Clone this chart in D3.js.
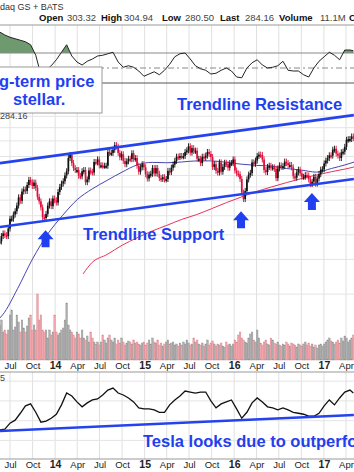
<!DOCTYPE html>
<html>
<head>
<meta charset="utf-8">
<script src="https://cdn.jsdelivr.net/npm/d3@7/dist/d3.min.js"></script>
<style>
  body { margin: 0; background: #fff; }
  svg { display: block; font-family: "Liberation Sans", Arial, sans-serif; }
  .note { fill: #1f3ff0; font-weight: bold; font-size: 16.5px; }
</style>
</head>
<body>
<svg id="chart"></svg>
<script>
// weekly data, first bar = week of 2013-05-20
const firstWeek = "2013-05-20";
const weeklyClose = [
  92, 98, 101, 99, 98, 107, 120, 120, 126, 131, 140, 154, 148, 165, 169, 166, 178, 189, 184, 176, 183, 172, 155, 147, 137, 122, 121, 127, 140, 147, 139, 152,
  149, 145, 164, 174, 181, 186, 199, 209, 244, 253, 230, 217, 212, 212, 198, 197, 209, 212, 184, 190, 211, 208, 206, 233, 232, 240, 224, 224, 223, 223,
  223, 262, 259, 259, 269, 284, 279, 259, 246, 255, 236, 227, 235, 242, 241, 258, 242, 244, 223, 208, 219, 227,
  219, 202, 192, 201, 203, 217, 204, 217, 203, 193, 191, 195, 190, 191, 210, 207, 218, 226, 236, 248, 247, 250, 249, 250, 262, 267,
  280, 260, 274, 265, 266, 242, 242, 230, 248, 245, 251, 262, 256, 247, 220, 227, 210, 206, 232, 208, 220, 231, 227, 218, 230, 230,
  240, 211, 204, 202, 191, 163, 151, 166, 190, 201, 205, 232, 228, 237, 250, 254, 253, 240, 212, 207, 220, 223, 218, 219, 215, 193,
  216, 224, 220, 222, 234, 230, 225, 225, 219, 197, 194, 206, 213, 204, 196, 196, 200, 199, 190, 180, 185, 196, 181, 192, 202, 213, 214,
  229, 237, 244, 252, 251, 269, 272, 257, 251, 244, 261, 263, 278, 302, 304, 305, 314, 308
];
// millions of shares
const weeklyVolume = [
  70, 80, 56, 60, 52, 60, 90, 100, 60, 66, 90, 76, 56, 80, 64, 56, 68, 84, 90, 60, 70, 60, 132, 80, 90, 60, 56, 60, 44, 60, 50, 56,
  90, 56, 50, 54, 60, 64, 80, 114, 70, 60, 56, 50, 44, 56, 52, 44, 60, 44, 40, 48, 36, 56, 44, 36, 32, 36, 30, 36, 50, 40,
  34, 44, 50, 40, 36, 44, 32, 40, 34, 44, 36, 30, 34, 38, 36, 32, 40, 34, 36, 32, 30, 34,
  36, 30, 34, 40, 32, 44, 36, 34, 40, 30, 34, 28, 32, 36, 40, 32, 34, 36, 30, 32, 28, 34, 30, 36, 32, 40,
  34, 30, 32, 44, 36, 40, 32, 30, 34, 28, 32, 40, 30, 34, 38, 32, 28, 32, 30, 34, 28, 26, 36, 30, 32, 28,
  32, 40, 36, 50, 56, 44, 40, 36, 34, 44, 52, 56, 40, 36, 60, 44, 34, 30, 36, 40, 32, 30, 44, 40, 34, 32,
  36, 30, 28, 32, 30, 36, 32, 28, 34, 32, 30, 26, 32, 30, 28, 32, 36, 30, 34, 28, 32, 26, 30, 24, 30, 32, 28,
  32, 36, 40, 44, 38, 36, 32, 36, 40, 34, 44, 38, 48, 44, 36, 40, 44, 50
];
// every third week (plus the last week)
const sampledRsi = [
  98, 94, 91, 89, 87, 85, 81, 67, 41, 47, 53, 61, 71, 81, 66, 58, 54, 59, 62, 66,
  67, 69, 71, 58, 51, 53, 51, 46, 39, 42, 45, 41, 47, 55, 65, 69, 70, 62, 53, 49,
  47, 42, 43, 47, 50, 46, 38, 37, 50, 57, 61, 54, 50, 51, 53, 59, 47, 46, 46, 41,
  38, 50, 59, 65, 71, 67, 61, 74, 74, 73
];
const sampledRatio = [
  0.060, 0.062, 0.074, 0.080, 0.094, 0.109, 0.113, 0.096, 0.076, 0.078,
  0.084, 0.092, 0.111, 0.135, 0.129, 0.117, 0.107, 0.115, 0.121, 0.123,
  0.131, 0.141, 0.145, 0.135, 0.131, 0.125, 0.117, 0.105, 0.103, 0.103,
  0.101, 0.096, 0.096, 0.111, 0.121, 0.129, 0.139, 0.137, 0.135, 0.137,
  0.137, 0.119, 0.105, 0.113, 0.117, 0.121, 0.103, 0.084, 0.096, 0.115,
  0.125, 0.117, 0.107, 0.105, 0.101, 0.105, 0.101, 0.096, 0.094, 0.092,
  0.088, 0.088, 0.094, 0.109, 0.121, 0.111, 0.125, 0.137, 0.141, 0.135
];

const ma50Dates = ["2013-05-20", "2013-06-01", "2013-08-01", "2013-10-01", "2013-12-01", "2014-02-01", "2014-04-01", "2014-06-01",
  "2014-08-01", "2014-10-01", "2014-12-01", "2015-02-01", "2015-04-01", "2015-06-01", "2015-08-01", "2015-10-01", "2015-12-01",
  "2016-02-01", "2016-04-01", "2016-06-01", "2016-08-01", "2016-10-01", "2016-12-01", "2017-02-01", "2017-04-01", "2017-05-05"];
const ma50Values = [37.5, 39, 53, 75, 100, 125, 150, 170, 188, 207, 225, 232, 231, 233, 236, 236, 232, 227, 224, 222, 216, 212, 207, 216, 226, 233];
const ma200Dates = ["2014-04-25", "2014-06-01", "2014-08-01", "2014-10-01", "2014-12-01", "2015-02-01", "2015-04-01", "2015-06-01",
  "2015-08-01", "2015-10-01", "2015-12-01", "2016-02-01", "2016-04-01", "2016-06-01", "2016-08-01", "2016-10-01", "2016-12-01",
  "2017-02-01", "2017-04-01", "2017-05-05"];
const ma200Values = [63, 72, 79, 88, 96, 104, 111, 119, 126, 135, 145, 155, 165, 174, 183, 192, 200, 208, 215, 220];

const trendDates = ["2013-05-21", "2017-05-03"];
const resistanceValues = [230, 403];
const supportValues = [109, 191];
const ratioTrendValues = [0.058, 0.0904];

const arrowDates = ["2013-11-23", "2016-01-29", "2016-11-13"];
const arrowTipPrices = [105, 131, 162];

const quarterTicks = ["2013-07-01", "2013-10-01", "2014-01-01", "2014-04-01", "2014-07-01", "2014-10-01", "2015-01-01", "2015-04-01",
  "2015-07-01", "2015-10-01", "2016-01-01", "2016-04-01", "2016-07-01", "2016-10-01", "2017-01-01", "2017-04-01"];
const priceGrid = [50, 75, 100, 125, 150, 175, 200, 250, 300, 350, 400];
const rsiLevels = [70, 50, 30];
const ratioGrid = [0.04, 0.08, 0.12, 0.16];

const quoteLabels = ["Open", "High", "Low", "Last", "Volume", "C"];
const quoteValues = ["303.32", "304.94", "280.50", "284.16", "11.1M", ""];

const parseDay = d3.timeParse("%Y-%m-%d");

class TeslaChart {
  constructor(_config) {
    this.config = {
      parentElement: _config.parentElement,
      containerWidth: _config.containerWidth || 354,
      containerHeight: _config.containerHeight || 472
    };
    this.initVis();
  }

  initVis() {
    let vis = this;
    const w = vis.config.containerWidth;

    vis.svg = d3.select(vis.config.parentElement)
      .attr("width", w)
      .attr("height", vis.config.containerHeight);

    vis.xScale = d3.scaleTime()
      .domain([parseDay("2013-07-01"), parseDay("2017-04-01")])
      .range([10, 346]);
    vis.yRsi = d3.scaleLinear().domain([30, 70]).range([83, 53]);
    vis.yPrice = d3.scaleLog().domain([23, 428]).range([360, 110]);
    vis.yVolume = d3.scaleLinear().domain([0, 140]).range([360, 290]);
    vis.yRatio = d3.scaleLinear().domain([0.02, 0.18]).range([449.8, 370.8]);

    vis.weekDate = i => d3.timeDay.offset(parseDay(firstWeek), 7 * i);
    vis.sampleWeeks = d3.range(0, weeklyClose.length - 1, 3).concat(weeklyClose.length - 1);

    vis.svg.append("defs").append("clipPath").attr("id", "above70")
      .append("rect").attr("x", 0).attr("y", 0).attr("width", w).attr("height", vis.yRsi(70));
  }

  renderVis() {
    let vis = this;
    const w = vis.config.containerWidth;
    const ticks = quarterTicks.map(parseDay);

    // vertical grid
    const grid = vis.svg.append("g").attr("class", "grid");
    grid.selectAll(".vgrid")
      .data(ticks)
      .join("line")
      .attr("x1", d => vis.xScale(d)).attr("x2", d => vis.xScale(d))
      .attr("y1", 25).attr("y2", 360)
      .attr("stroke", "#e0e0e0");
    grid.selectAll(".vgrid2")
      .data(ticks)
      .join("line")
      .attr("x1", d => vis.xScale(d)).attr("x2", d => vis.xScale(d))
      .attr("y1", 372).attr("y2", 459)
      .attr("stroke", "#e0e0e0");

    const priceGridG = vis.svg.append("g")
      .call(d3.axisRight(vis.yPrice).tickValues(priceGrid).tickSize(w).tickFormat(""))
      .call(g => g.select(".domain").remove());
    priceGridG.selectAll("line").attr("stroke", "#e4e4e4");

    const ratioGridG = vis.svg.append("g")
      .call(d3.axisRight(vis.yRatio).tickValues(ratioGrid).tickSize(w).tickFormat(""))
      .call(g => g.select(".domain").remove());
    ratioGridG.selectAll("line").attr("stroke", "#e4e4e4");

    // panel borders
    [25, 372, 459].forEach(y => {
      vis.svg.append("line").attr("x1", 0).attr("x2", w).attr("y1", y).attr("y2", y)
        .attr("stroke", "#999");
    });

    // RSI panel
    const rsiPts = vis.sampleWeeks.map((wk, k) => ({ date: vis.weekDate(wk), value: sampledRsi[k] }));
    vis.svg.append("path")
      .datum(rsiPts)
      .attr("clip-path", "url(#above70)")
      .attr("fill", "#6f9a6f")
      .attr("d", d3.area()
        .x(d => vis.xScale(d.date))
        .y0(vis.yRsi(70))
        .y1(d => vis.yRsi(d.value)));

    vis.svg.selectAll(".rsi-level")
      .data(rsiLevels)
      .join("line")
      .attr("x1", 0).attr("x2", w)
      .attr("y1", d => vis.yRsi(d)).attr("y2", d => vis.yRsi(d))
      .attr("stroke", d => d === 30 ? "#555" : "#888")
      .attr("stroke-dasharray", d => d === 50 ? "6,3,2,3" : null);

    vis.svg.append("path")
      .datum(rsiPts)
      .attr("fill", "none")
      .attr("stroke", "#222")
      .attr("stroke-width", 1)
      .attr("d", d3.line().x(d => vis.xScale(d.date)).y(d => vis.yRsi(d.value)));

    // volume
    vis.svg.selectAll(".vol")
      .data(weeklyVolume)
      .join("rect")
      .attr("class", "vol")
      .attr("x", (d, i) => vis.xScale(vis.weekDate(i)) - 0.8)
      .attr("width", 1.6)
      .attr("y", d => vis.yVolume(d))
      .attr("height", d => 360 - vis.yVolume(d))
      .attr("fill", (d, i) => i > 0 && weeklyClose[i] < weeklyClose[i - 1] ? "#f2a7ad" : "#b0b0b0")
      .attr("stroke", (d, i) => i > 0 && weeklyClose[i] < weeklyClose[i - 1] ? "#d9818a" : "#8c8c8c")
      .attr("stroke-width", 0.4);

    // moving averages
    const maLine = d3.line().curve(d3.curveMonotoneX)
      .x(d => vis.xScale(d.date)).y(d => vis.yPrice(d.value));
    vis.svg.append("path")
      .datum(ma50Dates.map((d, i) => ({ date: parseDay(d), value: ma50Values[i] })))
      .attr("fill", "none").attr("stroke", "#4646b4").attr("stroke-width", 1)
      .attr("d", maLine);
    vis.svg.append("path")
      .datum(ma200Dates.map((d, i) => ({ date: parseDay(d), value: ma200Values[i] })))
      .attr("fill", "none").attr("stroke", "#e8325a").attr("stroke-width", 1)
      .attr("d", maLine);

    // price bars
    const candles = weeklyClose.map((c, i) => ({
      date: vis.weekDate(i),
      open: i ? weeklyClose[i - 1] : c,
      close: c
    }));
    const barColor = d => d.close >= d.open ? "#111" : "#e0103c";
    vis.svg.selectAll(".wick")
      .data(candles)
      .join("line")
      .attr("x1", d => vis.xScale(d.date)).attr("x2", d => vis.xScale(d.date))
      .attr("y1", d => vis.yPrice(Math.max(d.open, d.close)) - 3)
      .attr("y2", d => vis.yPrice(Math.min(d.open, d.close)) + 3)
      .attr("stroke", barColor).attr("stroke-width", 0.9);
    vis.svg.selectAll(".body")
      .data(candles)
      .join("rect")
      .attr("x", d => vis.xScale(d.date) - 0.85)
      .attr("width", 1.7)
      .attr("y", d => vis.yPrice(Math.max(d.open, d.close)))
      .attr("height", d => Math.max(2, vis.yPrice(Math.min(d.open, d.close)) - vis.yPrice(Math.max(d.open, d.close))))
      .attr("fill", barColor);

    // trendlines
    const tDates = trendDates.map(parseDay);
    [resistanceValues, supportValues].forEach(vals => {
      vis.svg.append("line")
        .attr("x1", vis.xScale(tDates[0])).attr("y1", vis.yPrice(vals[0]))
        .attr("x2", vis.xScale(tDates[1])).attr("y2", vis.yPrice(vals[1]))
        .attr("stroke", "#2443ee").attr("stroke-width", 2.6);
    });

    // arrows
    const arrowPath = "M0,0 L8,9 L4,9 L4,17 L-4,17 L-4,9 L-8,9 Z";
    vis.svg.selectAll(".arrow")
      .data(arrowDates)
      .join("path")
      .attr("transform", (d, i) => `translate(${vis.xScale(parseDay(d))},${vis.yPrice(arrowTipPrices[i])})`)
      .attr("d", arrowPath)
      .attr("fill", "#1f3ff0");

    // ratio panel
    const ratioPts = vis.sampleWeeks.map((wk, k) => ({ date: vis.weekDate(wk), value: sampledRatio[k] }));
    vis.svg.append("path")
      .datum(ratioPts)
      .attr("fill", "none").attr("stroke", "#111").attr("stroke-width", 1.3)
      .attr("d", d3.line().x(d => vis.xScale(d.date)).y(d => vis.yRatio(d.value)));
    vis.svg.append("line")
      .attr("x1", vis.xScale(tDates[0])).attr("y1", vis.yRatio(ratioTrendValues[0]))
      .attr("x2", vis.xScale(tDates[1])).attr("y2", vis.yRatio(ratioTrendValues[1]))
      .attr("stroke", "#2443ee").attr("stroke-width", 2.4);

    // date axes
    const fmt = d => d.getMonth() === 0 ? d3.timeFormat("%y")(d) : d3.timeFormat("%b")(d);
    [360, 459].forEach(y => {
      vis.svg.append("g")
        .attr("transform", `translate(0,${y})`)
        .call(d3.axisBottom(vis.xScale).tickValues(ticks).tickSize(0).tickPadding(2).tickFormat(fmt))
        .call(g => g.select(".domain").remove())
        .call(g => g.selectAll("text")
          .attr("fill", "#222")
          .style("font-family", "Liberation Sans, Arial, sans-serif")
          .style("font-size", d => d.getMonth() === 0 ? "10.5px" : "9.5px")
          .style("font-weight", d => d.getMonth() === 0 ? "bold" : "normal"));
    });

    // header
    vis.svg.append("text").attr("x", 0).attr("y", 10)
      .attr("font-size", 9).attr("fill", "#333").text("daq GS + BATS");
    const qx = [39, 101, 162, 220, 279, 349];
    const vx = [67, 124, 185, 245, 320, 0];
    quoteLabels.forEach((lab, i) => {
      vis.svg.append("text").attr("x", qx[i]).attr("y", 21)
        .attr("font-size", 9.5).attr("font-weight", "bold").attr("fill", "#111").text(lab);
      if (quoteValues[i]) {
        vis.svg.append("text").attr("x", vx[i]).attr("y", 21)
          .attr("font-size", 9.5).attr("fill", "#444").text(quoteValues[i]);
      }
    });

    // callout box
    vis.svg.append("rect")
      .attr("x", -2).attr("y", 67).attr("width", 104).attr("height", 46)
      .attr("fill", "#fff").attr("stroke", "#9a9a9a");
    vis.svg.append("text").attr("class", "note").attr("x", -1).attr("y", 87).text("g-term price");
    vis.svg.append("text").attr("class", "note").attr("x", 13).attr("y", 105).text("stellar.");

    vis.svg.append("text").attr("x", 0).attr("y", 119)
      .attr("font-size", 9).attr("fill", "#444").text("284.16");
    vis.svg.append("text").attr("x", 0).attr("y", 381)
      .attr("font-size", 9).attr("fill", "#444").text("5");

    vis.svg.append("text").attr("class", "note").attr("x", 177).attr("y", 110).text("Trendline Resistance");
    vis.svg.append("text").attr("class", "note").attr("x", 83).attr("y", 240).text("Trendline Support");
    vis.svg.append("text").attr("class", "note").attr("x", 143).attr("y", 447).text("Tesla looks due to outperform.");
  }
}

const chart = new TeslaChart({ parentElement: "#chart" });
chart.renderVis();
</script>
</body>
</html>
